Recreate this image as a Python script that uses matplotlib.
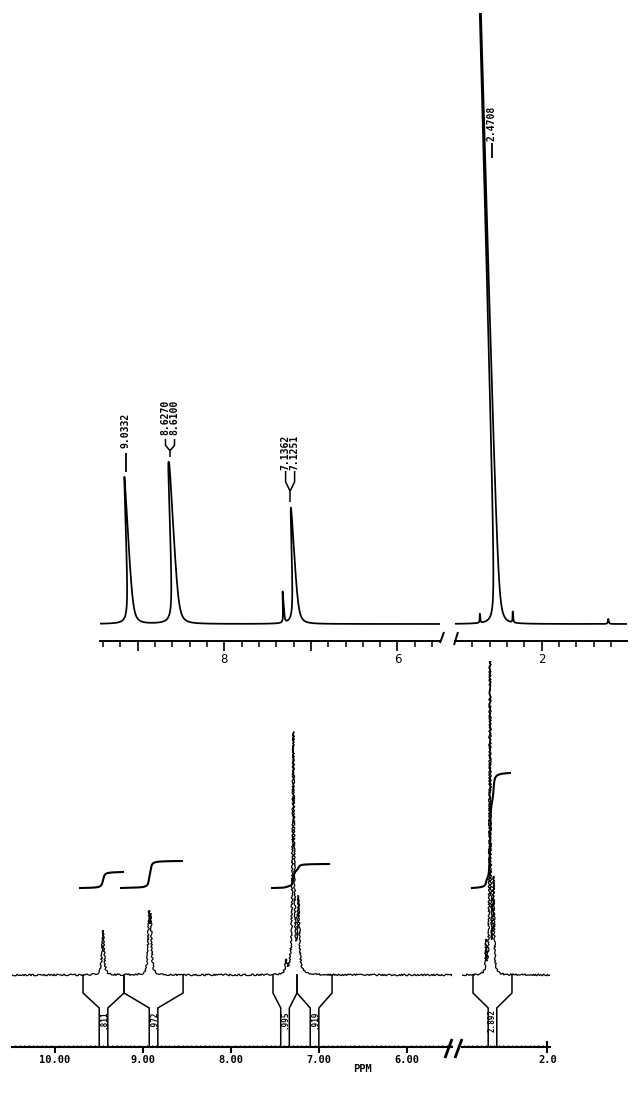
import numpy as np
import matplotlib
matplotlib.use("Agg")
import matplotlib.pyplot as plt
from matplotlib.transforms import Affine2D
from matplotlib.ticker import FixedLocator, FixedFormatter
from matplotlib.lines import Line2D

# ---------------- data ----------------
# upper (expanded) spectrum: peak positions (ppm on its own axis), heights, half-widths
top_pos = [9.077, 8.566, 8.549, 7.310, 7.176, 7.165, 2.510, 2.710, 2.330, 1.230]
top_hgt = [147, 107, 107, 31, 66, 66, 1400, 9, 11, 5]
top_wid = [0.015, 0.015, 0.015, 0.005, 0.015, 0.015, 0.006, 0.004, 0.004, 0.006]
top_labels = ["9.0332", "8.6270", "8.6100", "7.1362", "7.1251", "2.4708"]
top_label_peaks = [[0], [1, 2], [4, 5], [6]]
top_major_left = [9, 8, 7, 6]
top_major_right = [2]

# lower spectrum (ppm on its own printed axis)
bot_pos = [9.4545, 8.932, 8.912, 7.375, 7.292, 7.235, 2.697, 2.651, 2.611]
bot_hgt = [44, 54, 50, 12, 240, 72, 30, 420, 92]
bot_wid = [0.013, 0.010, 0.010, 0.010, 0.010, 0.012, 0.005, 0.005, 0.008]

# integral curves
int_start = [9.716, 9.250, 7.534, 2.856]
int_end = [9.227, 8.557, 6.886, 2.424]
int_base = [87, 87, 87, 87]
int_rise = [16, 27, 24, 115]

# integration regions and printed values
reg_lo = [9.682, 9.216, 7.523, 7.250, 2.844]
reg_hi = [9.216, 8.545, 7.250, 6.852, 2.401]
reg_vals = [".811", ".972", ".995", ".919", "2.892"]

bot_ticks_left = [10, 9, 8, 7, 6]
bot_ticklabels_left = ["10.00", "9.00", "8.00", "7.00", "6.00"]
bot_ticks_right = [2]
bot_ticklabels_right = ["2.0"]
x_title = "PPM"

# ---------------- figure ----------------
W, H = 642, 1095
fig = plt.figure(figsize=(W / 100, H / 100), dpi=100)
fig.patch.set_facecolor("white")
MONO = dict(family="DejaVu Sans Mono", weight="bold")


def add_ax(x0, x1, y0, y1):
    return fig.add_axes([x0 / W, 1 - y1 / H, (x1 - x0) / W, (y1 - y0) / H])


def lorentz_sum(x, pos, hgt, wid):
    y = np.zeros_like(x)
    for p, h, w in zip(pos, hgt, wid):
        y += h / (1 + ((x - p) / w) ** 2)
    return y


def fig_line(xs, ys, lw=1.2):
    fig.add_artist(Line2D([v / W for v in xs], [1 - v / H for v in ys],
                          transform=fig.transFigure, color="k", lw=lw,
                          solid_capstyle="butt", solid_joinstyle="miter"))


def base_px(ax, ppm):
    return ax.transData.transform((ppm, 0))[0]


def clean(ax):
    for s in ["top", "left", "right"]:
        ax.spines[s].set_visible(False)
    ax.set_yticks([])
    ax.patch.set_visible(False)


# ---- upper spectrum ----
ax_tl = add_ax(100, 440, 13, 626)
ax_tr = add_ax(455, 627, 13, 626)
ax_tl.set_xlim(9.435, 5.509)
ax_tr.set_xlim(3.0, 1.015)
minor_tl = [round(v, 1) for v in np.arange(5.6, 9.41, 0.2)]
minor_tr = [round(v, 1) for v in np.arange(1.2, 2.81, 0.2)]
for ax, majors, minors in ((ax_tl, top_major_left, minor_tl),
                           (ax_tr, top_major_right, minor_tr)):
    ax.set_ylim(-2, 611)
    ax.set_autoscale_on(False)
    clean(ax)
    ax.spines["bottom"].set_position(("outward", 10.8))
    ax.spines["bottom"].set_linewidth(1.4)
    ax.xaxis.set_major_locator(FixedLocator(majors))
    ax.xaxis.set_major_formatter(FixedFormatter([str(m) if m % 2 == 0 else "" for m in majors]))
    ax.xaxis.set_minor_locator(FixedLocator(minors))
    ax.tick_params(axis="x", which="major", direction="out", length=7.5, width=1.2,
                   pad=1, labelsize=8.5)
    ax.tick_params(axis="x", which="minor", direction="out", length=4.3, width=1.1)

for ax, k in ((ax_tl, 0.045), (ax_tr, 0.028)):
    x0, x1 = ax.get_xlim()
    x = np.linspace(x0, x1, 12000)
    y = lorentz_sum(x, top_pos, top_hgt, top_wid)
    yb = ax.transData.transform((0, 0))[1]
    sk = Affine2D().translate(0, -yb).skew(np.arctan(-k), 0).translate(0, yb)
    ax.plot(x, y, color="k", lw=1.25, transform=ax.transData + sk)

# peak labels of the upper spectrum
label_layout = [  # (axis, text centre y, stem top, stem bottom) in pixels
    (ax_tl, 430, 453, 472),
    (ax_tl, 417, 439, 457),
    (ax_tl, 452, 471, 502),
    (ax_tr, 123, 143, 158),
]
li = 0
for (ax, cy, st, sb), idx in zip(label_layout, top_label_peaks):
    ppm = np.mean([top_pos[i] for i in idx])
    sx = base_px(ax, ppm) - 6
    if len(idx) == 1:
        fig.text(sx / W, 1 - cy / H, top_labels[li], rotation=90, ha="center",
                 va="center", fontsize=7, **MONO)
        fig_line([sx + 1, sx + 1], [st, sb], lw=1.3)
        li += 1
    else:
        L = sb - st
        for dx in (-4.5, 4.5):
            fig.text((sx + dx) / W, 1 - cy / H, top_labels[li], rotation=90,
                     ha="center", va="center", fontsize=7, **MONO)
            fig_line([sx + dx, sx + dx, sx], [st, st + 0.35 * L, st + 0.65 * L], lw=1.1)
            li += 1
        fig_line([sx, sx], [st + 0.65 * L, sb], lw=1.1)

# axis break marks (upper)
fig_line([440, 444], [643, 632], lw=1.4)
fig_line([454, 458], [645, 632], lw=1.4)

# ---- lower spectrum ----
ax_bl = add_ax(12, 452, 661, 1047)
ax_br = add_ax(462, 550, 661, 1047)
ax_bl.set_xlim(10.489, 5.489)
ax_br.set_xlim(2.969, 1.969)
minor_bl = [round(v, 2) for v in np.arange(5.5, 10.49, 0.05)]
minor_br = [round(v, 2) for v in np.arange(2.0, 2.96, 0.05)]
for ax, majors, labs, minors, mdir, mlen in (
        (ax_bl, bot_ticks_left, bot_ticklabels_left, minor_bl, "out", 4.0),
        (ax_br, bot_ticks_right, bot_ticklabels_right, minor_br, "inout", 8.0)):
    ax.set_ylim(-72, 314)
    ax.set_autoscale_on(False)
    clean(ax)
    ax.spines["bottom"].set_linewidth(1.5)
    ax.xaxis.set_major_locator(FixedLocator(majors))
    ax.xaxis.set_major_formatter(FixedFormatter(labs))
    ax.xaxis.set_minor_locator(FixedLocator(minors))
    ax.tick_params(axis="x", which="major", direction=mdir, length=mlen, width=1.4,
                   pad=1.5, labelsize=7.5)
    ax.tick_params(axis="x", which="minor", direction="in", length=1.6, width=0.9)
    for t in ax.get_xticklabels():
        t.set_fontfamily("DejaVu Sans Mono")
        t.set_fontweight("bold")

spec = {}
for ax in (ax_bl, ax_br):
    x0, x1 = ax.get_xlim()
    x = np.linspace(x0, x1, 12000)
    y = lorentz_sum(x, bot_pos, bot_hgt, bot_wid)
    spec[ax] = (x, y)
    ln, = ax.plot(x, y, color="k", lw=0.9)
    ln.set_sketch_params(scale=0.8, length=2.6, randomness=4)

# integral curves
for s, e, b, r in zip(int_start, int_end, int_base, int_rise):
    ax = ax_bl if s > 5 else ax_br
    x, y = spec[ax]
    m = (x <= s) & (x >= e)
    c = np.cumsum(y[m])
    ax.plot(x[m], b + r * c / c[-1], color="k", lw=1.5)

# integration region funnels
hw = 4.3 / 88.0
for lo, hi, val in zip(reg_lo, reg_hi, reg_vals):
    ax = ax_bl if lo > 5 else ax_br
    mid = 0.5 * (lo + hi)
    kw = dict(color="k", lw=1.1, clip_on=False, solid_joinstyle="miter")
    ax.plot([lo, lo, mid + hw, mid + hw], [0, -18, -33, -72], **kw)
    ax.plot([hi, hi, mid - hw, mid - hw], [0, -18, -33, -72], **kw)
    ax.text(mid, -45, val, rotation=90, ha="center", va="center", fontsize=5.5, **MONO)

# axis break marks (lower) and axis title
fig_line([445, 452], [1058, 1039], lw=2.0)
fig_line([455, 462], [1058, 1039], lw=2.0)
fig.text(363 / W, 1 - 1069 / H, x_title, ha="center", va="center", fontsize=7.5, **MONO)

fig.savefig("out.png", dpi=100, facecolor="white")
